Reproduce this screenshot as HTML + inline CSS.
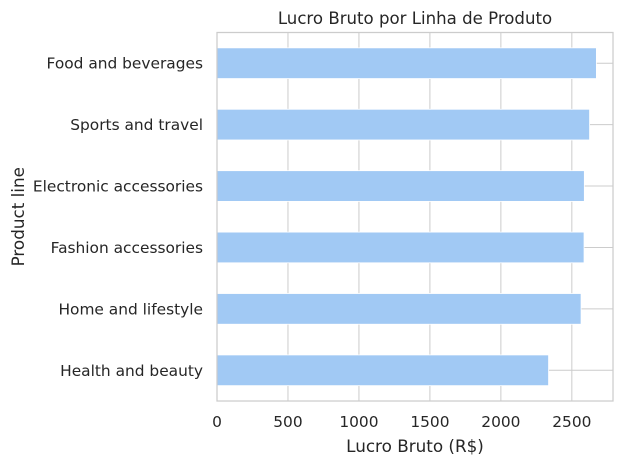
<!DOCTYPE html>
<html><head><meta charset="utf-8"><style>
body{margin:0;background:#fff;}
svg text{font-family:"DejaVu Sans","Liberation Sans",sans-serif;fill:#262626;}
</style></head><body>
<svg width="623" height="464" xmlns="http://www.w3.org/2000/svg">
<g id="g"></g>
</svg>
<script>
const categories=["Food and beverages","Sports and travel","Electronic accessories","Fashion accessories","Home and lifestyle","Health and beauty"];
const values=[2673,2625,2588,2586,2565,2336];
const ticks=[0,500,1000,1500,2000,2500];
const L=217,R=613,T=32.5,B=401,XMAX=2790;
const x=v=>L+v*(R-L)/XMAX;
const band=(B-T)/categories.length;
const y=i=>T+band*(i+0.5);
const NS="http://www.w3.org/2000/svg";
const g=document.getElementById('g');
function mk(t,a,txt){const e=document.createElementNS(NS,t);for(const k in a)e.setAttribute(k,a[k]);if(txt!==undefined)e.textContent=txt;g.appendChild(e);return e;}
ticks.forEach(t=>{const e=mk('line',{x1:x(t),x2:x(t),y1:T,y2:B,stroke:'#cccccc','stroke-width':1});

});
categories.forEach((c,i)=>{const e=mk('line',{x1:L,x2:R,y1:y(i),y2:y(i),stroke:'#cccccc','stroke-width':1});

});
categories.forEach((c,i)=>{const h=band*0.5;
const r=mk('rect',{x:L,y:y(i)-h/2,width:x(values[i])-L,height:h,fill:'#a1c9f4',stroke:'#ffffff','stroke-width':0.8});


const t=mk('text',{x:203,y:y(i)+5.5,'text-anchor':'end','font-size':15.4},c);

});
ticks.forEach(v=>{const t=mk('text',{x:x(v),y:427,'text-anchor':'middle','font-size':15.4},String(v));

});
const f=mk('rect',{x:L,y:T,width:R-L,height:B-T,fill:'none',stroke:'#cccccc','stroke-width':1.25});


const ti=mk('text',{x:(L+R)/2,y:24,'text-anchor':'middle','font-size':16.6},'Lucro Bruto por Linha de Produto');


const xl=mk('text',{x:(L+R)/2,y:452,'text-anchor':'middle','font-size':16.8},'Lucro Bruto (R$)');


const yl=mk('text',{x:0,y:0,'text-anchor':'middle','font-size':16.8,transform:'translate(24,'+((T+B)/2)+') rotate(-90)'},'Product line');


</script>
</body></html>
